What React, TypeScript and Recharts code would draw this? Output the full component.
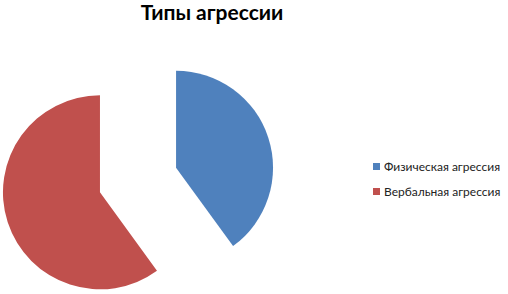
import React from 'react';
import { PieChart, Pie, Cell, Sector, Legend } from 'recharts';

const categories = ['Физическая агрессия', 'Вербальная агрессия'];
const values = [40, 60];
const colors = ['#4F81BD', '#C0504D'];

const data = categories.map((name, i) => ({ name, value: values[i] }));

const RADIAN = Math.PI / 180;
const EXPLODE = 40;

// exploded slice: push each sector out along its mid angle
const ExplodedSector = (props: any) => {
  const { cx, cy, midAngle } = props;
  const dx = Math.cos(-midAngle * RADIAN) * EXPLODE;
  const dy = Math.sin(-midAngle * RADIAN) * EXPLODE;
  return <Sector {...props} cx={cx + dx} cy={cy + dy} stroke="none" />;
};

const LegendContent = () => (
  <div style={{ fontFamily: 'Lato, "Open Sans", sans-serif', fontSize: 12, color: '#222' }}>
    {data.map((d, i) => (
      <div key={d.name} style={{ display: 'flex', alignItems: 'center', height: 25 }}>
        <span style={{ width: 7, height: 7, background: colors[i], marginRight: 4, display: 'inline-block' }} />
        <span>{d.name}</span>
      </div>
    ))}
  </div>
);

const App: React.FC = () => {
  return (
    <div style={{ position: 'absolute', left: 0, top: 0, width: 508, height: 294, background: '#fff' }}>
      <div
        style={{
          position: 'absolute',
          left: 0,
          top: 0,
          width: 424,
          textAlign: 'center',
          fontFamily: 'Lato, "Open Sans", sans-serif',
          fontWeight: 700,
          fontSize: 21,
          lineHeight: '24px',
          color: '#000',
        }}
      >
        Типы агрессии
      </div>
      <PieChart width={508} height={294} margin={{ top: 0, right: 0, bottom: 0, left: 0 }}>
        <Pie
          data={data}
          dataKey="value"
          nameKey="name"
          cx={138}
          cy={180}
          outerRadius={97}
          startAngle={90}
          endAngle={-270}
          shape={ExplodedSector}
          isAnimationActive={false}
        >
          {data.map((d, i) => (
            <Cell key={d.name} fill={colors[i]} />
          ))}
        </Pie>
        <Legend
          content={<LegendContent />}
          wrapperStyle={{ position: 'absolute', left: 373, top: 154, width: 135 }}
        />
      </PieChart>
    </div>
  );
};

export default App;
